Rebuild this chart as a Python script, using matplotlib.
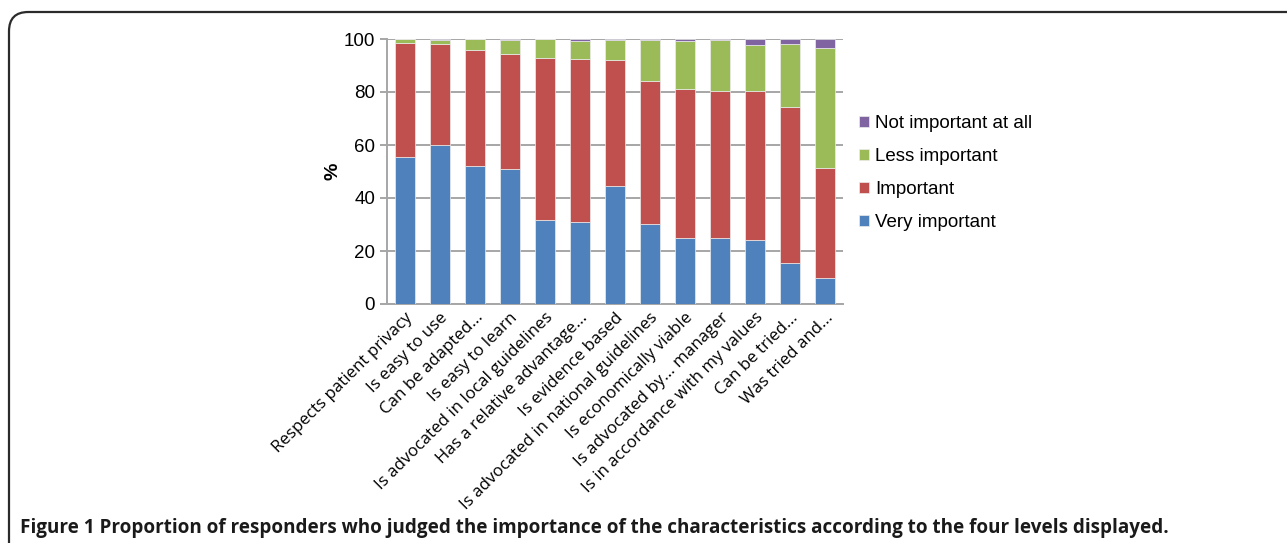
import matplotlib.pyplot as plt
from matplotlib.patches import FancyBboxPatch
import numpy as np

categorias = ['Respects patient privacy', 'Is easy to use', 'Can be adapted...',
              'Is easy to learn', 'Is advocated in local guidelines',
              'Has a relative advantage...', 'Is evidence based',
              'Is advocated in national guidelines', 'Is economically viable',
              'Is advocated by... manager', 'Is in accordance with my values',
              'Can be tried...', 'Was tried and...']

muito_importante = [55.6, 60.1, 51.9, 50.8, 31.8, 31.1, 44.7, 30.3, 24.8, 24.8, 24.3, 15.3, 9.7]
importante = [43.0, 37.9, 44.1, 43.7, 61.2, 61.2, 47.4, 54.0, 56.2, 55.7, 56.0, 59.2, 41.7]
menos_importante = [1.4, 1.7, 4.0, 5.2, 7.0, 6.9, 7.5, 15.4, 18.2, 19.1, 17.4, 23.6, 45.2]
nada_importante = [0.0, 0.3, 0.0, 0.3, 0.0, 0.8, 0.4, 0.3, 0.8, 0.4, 2.3, 1.9, 3.4]

series = [('Very important', muito_importante, '#4F81BD'),
          ('Important', importante, '#C0504D'),
          ('Less important', menos_importante, '#9BBB59'),
          ('Not important at all', nada_importante, '#8064A2')]

fig = plt.figure(figsize=(12.87, 5.43), dpi=100)
ax = fig.add_axes([387 / 1287, 1 - 304 / 543, (843 - 387) / 1287, (304 - 39) / 543])

x = np.arange(len(categorias))
base = np.zeros(len(categorias))
barras = []
for nome, valores, cor in series:
    b = ax.bar(x, valores, 0.57, bottom=base, color=cor, edgecolor='#ececec',
               linewidth=0.5, label=nome, zorder=3)
    barras.append(b)
    base = base + np.array(valores)

ax.set_xlim(-0.5, len(categorias) - 0.5)
ax.set_ylim(0, 100)
ax.set_yticks([0, 20, 40, 60, 80, 100])
ax.yaxis.grid(True, color='#a6a6a6', linewidth=1.4, zorder=0)
for lado in ['top', 'right']:
    ax.spines[lado].set_visible(False)
ax.spines['left'].set_color('#a6a6a6')
ax.spines['bottom'].set_color('#a6a6a6')
ax.spines['left'].set_linewidth(1.4)
ax.spines['bottom'].set_linewidth(1.4)
ax.tick_params(axis='y', colors='#a6a6a6', length=5, width=1.4, labelcolor='black',
               labelsize=13.5)
ax.tick_params(axis='x', length=0, pad=4)
for t in ax.get_yticklabels():
    t.set_family('Liberation Sans')

ax.set_xticks(x)
ax.set_xticklabels(categorias, rotation=45, ha='right', rotation_mode='anchor',
                   family='Open Sans', fontsize=12.2)
ax.set_ylabel('%', fontsize=14, fontweight='bold', family='Liberation Sans', labelpad=2)

handles = barras[::-1]
fig.legend(handles, [h.get_label() for h in handles], loc='center left',
           bbox_to_anchor=(859 / 1287, 1 - 173 / 543), frameon=False,
           prop={'family': 'Liberation Sans', 'size': 13.5},
           handlelength=0.55, handleheight=0.55, handletextpad=0.3,
           labelspacing=0.86, borderpad=0, borderaxespad=0)

# moldura arredondada
moldura = FancyBboxPatch((9 / 1287, -0.1), 1.2, 1 - 12 / 543 + 0.1,
                         boxstyle='round,pad=0,rounding_size=0.015',
                         transform=fig.transFigure, facecolor='none',
                         edgecolor='#2b2b2b', linewidth=1.6, mutation_aspect=1287 / 543)
fig.patches.append(moldura)

fig.text(20 / 1287, 1 - 533 / 543,
         'Figure 1 Proportion of responders who judged the importance of the characteristics according to the four levels displayed.',
         fontsize=13.6, fontweight='bold', family='Open Sans', va='baseline', color='#1a1a1a')

fig.savefig('out.png', dpi=100)
